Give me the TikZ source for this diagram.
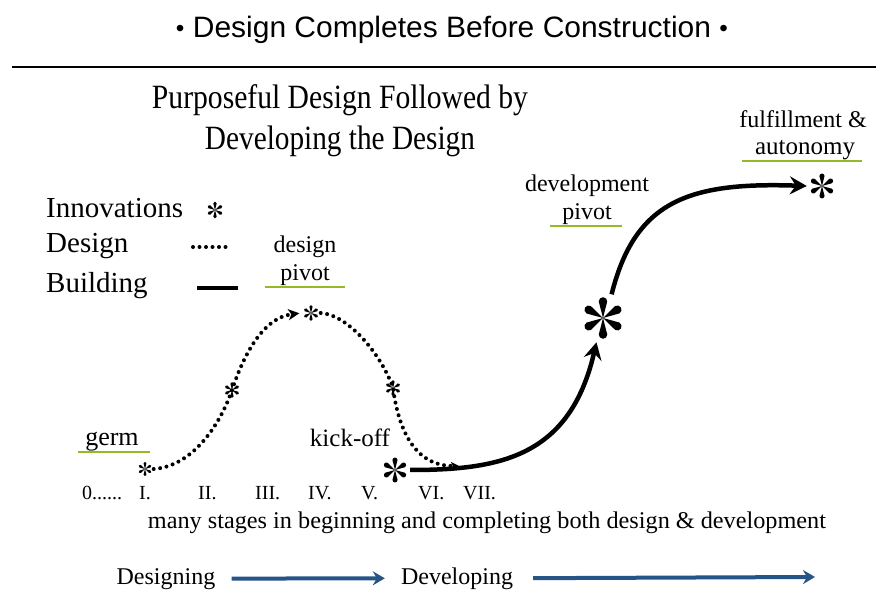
\documentclass[tikz,border=0pt]{standalone}
\usepackage{fontspec}
\usepackage{graphicx}
\setmainfont{Liberation Serif}
\newfontfamily\headsans{Liberation Sans}
\usetikzlibrary{arrows.meta,backgrounds}
\definecolor{ugreen}{RGB}{150,185,40}
\definecolor{arrblue}{RGB}{38,84,135}
% six teardrop petals round a named node
\newcommand\innovpetals[2]{%
  \foreach \a in {30,90,150,210,270,330}{%
    \fill[black] (#1.center) -- ([shift={({\a+14.5}:{0.683*#2pt})}]#1.center)
      arc[start angle={\a+90}, end angle={\a-90}, radius={0.17*#2pt}] -- cycle;}}
\begin{document}
\begin{tikzpicture}[x=1pt,y=-1pt,
  txt/.style={inner sep=0pt, anchor=base, font=\fontsize{24}{28}\selectfont},
  lgd/.style={inner sep=0pt, anchor=base west, font=\fontsize{29}{32}\selectfont},
  stage/.style={inner sep=0pt, anchor=base west, font=\fontsize{20}{22}\selectfont},
  innov/.style={circle, inner sep=0pt, minimum size=2*#1pt},
  dotl/.style={line width=4pt, line cap=round, dash pattern=on 0pt off 6.5pt},
  build/.style={line width=4.5pt},
  uline/.style={draw=ugreen, line width=2pt},
  blu/.style={draw=arrblue, line width=4pt, -{Stealth[length=12pt,width=14pt,inset=4pt]}}]
\useasboundingbox (0,0) rectangle (876,601);

% title and rule
\node[inner sep=0pt, anchor=base] (title) at (452,38) {\resizebox{552pt}{\height}{\headsans\fontsize{29.5}{32}\selectfont{\fontsize{24}{24}\selectfont\raisebox{1pt}{•}} Design Completes Before Construction {\fontsize{24}{24}\selectfont\raisebox{1pt}{•}}}};
\draw[line width=2.5pt] (12,67) -- (876,67);

% heading
\node[inner sep=0pt, anchor=base] (head1) at (340,109) {\resizebox{376pt}{\height}{\fontsize{34}{36}\selectfont Purposeful Design Followed by}};
\node[inner sep=0pt, anchor=base] (head2) at (340,150) {\resizebox{270pt}{\height}{\fontsize{34}{36}\selectfont Developing the Design}};

% legend
\node[lgd] (lgI) at (46,218) {Innovations};
\node[lgd] (lgD) at (46,253) {Design};
\node[lgd] (lgB) at (46,293) {Building};
\node[innov=10] (lgstar) at (215,210) {};
\draw[dotl] (193,247) -- (232,247);
\draw[build] (197,288) -- (238,288);

% labels
\node[txt] (dpiv1) at (305,253) {design};
\node[txt] (dpiv2) at (305,281) {pivot};
\draw[uline] (265,287) -- (345,287);
\node[txt, font=\fontsize{26}{28}\selectfont] (germ) at (112,446) {germ};
\draw[uline] (78,452) -- (150,452);
\node[txt, font=\fontsize{25}{28}\selectfont] (kick) at (350,447) {kick-off};
\node[txt] (devp1) at (587,192) {development};
\node[txt] (devp2) at (587,220) {pivot};
\draw[uline] (550,226) -- (622,226);
\node[txt] (ful1) at (803,128) {fulfillment \&};
\node[txt, font=\fontsize{25}{28}\selectfont] (ful2) at (805,155) {autonomy};
\draw[uline] (742,161) -- (862,161);

% stages
\node[stage] (st0) at (82,500) {0......};
\node[stage] (st1) at (139,500) {I.};
\node[stage] (st2) at (198,500) {II.};
\node[stage] (st3) at (255,500) {III.};
\node[stage] (st4) at (308,500) {IV.};
\node[stage] (st5) at (361,500) {V.};
\node[stage] (st6) at (418,500) {VI.};
\node[stage] (st7) at (463,500) {VII.};
\node[inner sep=0pt, anchor=base] (many) at (487,529) {\resizebox{678pt}{\height}{\fontsize{24}{28}\selectfont many stages in beginning and completing both design \& development}};

% bottom arrows
\node[txt] (designing) at (166,584) {Designing};
\node[txt] (developing) at (457,584) {Developing};
\coordinate (bend) at (815,577);
\draw[blu, shorten <=16pt, shorten >=16pt] (designing.east) -- (developing.west);
\draw[blu, shorten <=20pt] (developing.east) -- (bend);

% innovation stars
\node[innov=8.5] (s1) at (145,469) {};
\node[innov=9.5] (s2) at (232,390) {};
\node[innov=9.5] (s3) at (311,313) {};
\node[innov=9.5] (s4) at (393,388) {};
\node[innov=15] (s5) at (395,470) {};
\node[innov=25] (s6) at (603,318) {};
\node[innov=15] (s7) at (822,186) {};
\coordinate (dend) at (459,466);
\foreach \s/\r in {lgstar/10, s1/8.5, s2/9.5, s3/9.5, s4/9.5, s5/15, s6/25, s7/15}{\innovpetals{\s}{\r}}

\begin{scope}[on background layer]
\fill[white] (0,0) rectangle (876,601);
\draw[dotl, shorten >=2pt, -{Stealth[length=11pt,width=11pt,inset=3pt]}] (s1.east) .. controls (195,466) and (222,420) .. (s2.center) .. controls (243,357) and (262,318) .. (s3.west);
\draw[dotl, -{Stealth[length=8pt,width=8pt,inset=2pt]}] (s3.east) .. controls (350,315) and (383,358) .. (s4.center) .. controls (398,425) and (412,466) .. (dend);
\draw[build, -{Stealth[length=17pt,width=18pt,inset=6pt]}] (s5.east) .. controls (500,470) and (570,457) .. (s6.255);
\draw[build, -{Stealth[length=17pt,width=18pt,inset=6pt]}] (s6.70) .. controls (635,200) and (690,182) .. (s7.west);
\end{scope}
\end{tikzpicture}
\end{document}
